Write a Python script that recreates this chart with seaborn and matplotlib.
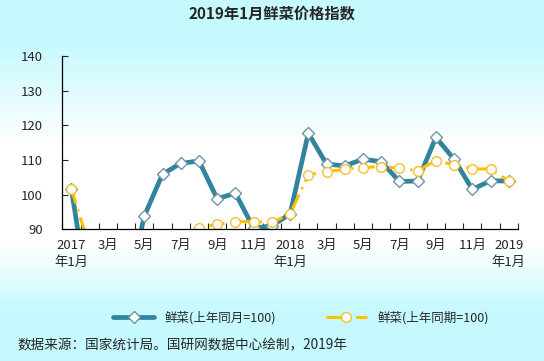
import numpy as np
import pandas as pd
import seaborn as sns
import matplotlib.pyplot as plt

# Monthly fresh-vegetable price index, Jan 2017 - Jan 2019
months = ["2017-01", "2017-02", "2017-03", "2017-04", "2017-05", "2017-06", "2017-07",
          "2017-08", "2017-09", "2017-10", "2017-11", "2017-12", "2018-01", "2018-02",
          "2018-03", "2018-04", "2018-05", "2018-06", "2018-07", "2018-08", "2018-09",
          "2018-10", "2018-11", "2018-12", "2019-01"]
same_month = [101.6, 68.0, 66.0, 70.0, 93.8, 105.9, 109.0, 109.7, 98.8, 100.4, 90.3, 91.0,
              94.4, 117.7, 108.8, 108.3, 110.2, 109.5, 103.8, 103.9, 116.5, 110.2, 101.5,
              104.0, 103.9]
same_period = [101.6, 84.8, 78.5, 76.4, 79.9, 84.1, 87.6, 90.5, 91.4, 92.2, 92.2, 92.0,
               94.4, 105.7, 106.6, 107.3, 107.8, 108.1, 107.6, 106.9, 109.8, 108.6, 107.4,
               107.4, 103.9]
tick_labels = ["2017\n年1月", "3月", "5月", "7月", "9月", "11月", "2018\n年1月",
               "3月", "5月", "7月", "9月", "11月", "2019\n年1月"]
series_names = ["鲜菜(上年同月=100)", "鲜菜(上年同期=100)"]

title = "2019年1月鲜菜价格指数"
source = "数据来源：国家统计局。国研网数据中心绘制，2019年"

sns.set_style("ticks")
plt.rcParams['font.family'] = ['Noto Sans CJK SC', 'DejaVu Sans']

df = pd.DataFrame({"month": months, "pos": np.arange(len(months)),
                   "same_month": same_month, "same_period": same_period})

fig = plt.figure(figsize=(5.44, 3.61), dpi=100)

# background gradient: cyan at top and bottom, white in the middle
bg = fig.add_axes([0, 0, 1, 1], zorder=-10)
rows = np.linspace(0, 1, 361)
stops = [0.0, 0.12, 0.40, 0.68, 0.86, 1.0]
cyan = np.array([198, 249, 254]) / 255
white = np.array([1.0, 1.0, 1.0])
cols = [cyan, cyan, white, white, cyan, cyan]
grad = np.stack([np.interp(rows, stops, [c[i] for c in cols]) for i in range(3)], axis=-1)
bg.imshow(grad[:, None, :], aspect='auto', extent=[0, 1, 0, 1])
bg.axis('off')

ax = fig.add_axes([0.1145, 0.365, 0.8375, 0.48])
ax.set_facecolor('none')

sns.lineplot(data=df, x="pos", y="same_month", ax=ax, color="#31849B", linewidth=3.4,
             marker="D", markersize=6.5, markerfacecolor="white",
             markeredgecolor="#6d97a8", markeredgewidth=1, label=series_names[0])
sns.lineplot(data=df, x="pos", y="same_period", ax=ax, color="#FFC000", linewidth=2.2,
             dashes=(5, 2, 0.7, 2), marker="o", markersize=7, markerfacecolor="white",
             markeredgecolor="#F5C030", markeredgewidth=1, label=series_names[1])

ax.set_xlim(-0.5, len(months) - 0.5)
ax.set_ylim(90, 140)
ax.set_yticks(range(90, 141, 10))
ax.set_xticks(np.arange(0, len(months), 2))
ax.set_xticklabels(tick_labels, linespacing=1.35)
ax.set_xticks(np.arange(-0.5, len(months), 1), minor=True)
ax.tick_params(axis='x', which='major', length=0, pad=7, labelsize=9.5)
ax.tick_params(axis='x', which='minor', direction='in', length=4, width=0.8)
ax.tick_params(axis='y', direction='in', length=4, width=0.8, pad=14, labelsize=9.5)
ax.set_xlabel("")
ax.set_ylabel("")
for s in ["top", "right"]:
    ax.spines[s].set_visible(False)
for s in ["left", "bottom"]:
    ax.spines[s].set_color("black")
    ax.spines[s].set_linewidth(0.9)

handles, labels = ax.get_legend_handles_labels()
ax.get_legend().remove()
fig.legend(handles, labels, loc='center', bbox_to_anchor=(0.553, 0.119), ncol=2,
           frameon=False, handlelength=3.3, columnspacing=4, fontsize=9)

fig.text(0.5, 1 - 14 / 361, title, ha='center', va='center', fontsize=11, fontweight='bold')
fig.text(17 / 544, 1 - 345 / 361, source, ha='left', va='center', fontsize=9.8)

fig.savefig("out.png", dpi=100)
